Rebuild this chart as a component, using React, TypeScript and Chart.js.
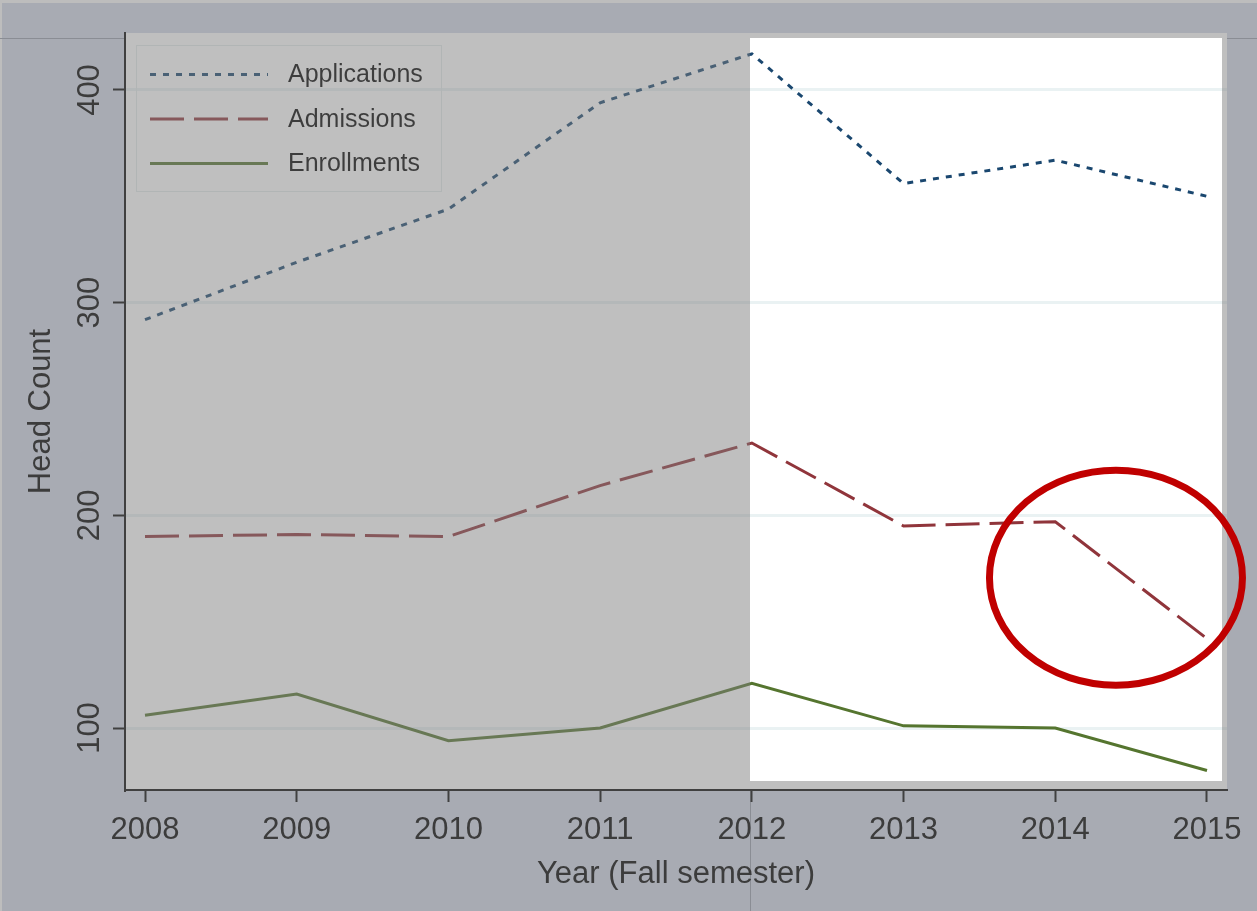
import React, { useEffect, useRef } from "react";
import { Chart, registerables } from "chart.js";

Chart.register(...registerables);

const years = [2008, 2009, 2010, 2011, 2012, 2013, 2014, 2015];
const applications = [292, 319, 344, 394, 417, 356, 367, 350];
const admissions = [190, 191, 190, 214, 234, 195, 197, 142];
const enrollments = [106, 116, 94, 100, 121, 101, 100, 80];
const yTicks = [100, 200, 300, 400];
const seriesNames = ["Applications", "Admissions", "Enrollments"];
const seriesColors = ["#1a476f", "#90353b", "#55752f"];
const seriesDashes = [[6, 7], [34, 10], []];

const W = 1257;
const H = 911;
const FONT = "'Liberation Sans', Arial, sans-serif";
const TEXT = "#3c3c3c";
const OUTER = "#a8abb3";

const decorPlugin = {
  id: "decor",
  beforeDraw(chart: any) {
    const ctx = chart.ctx;
    const a = chart.chartArea;
    ctx.save();
    ctx.fillStyle = OUTER;
    ctx.fillRect(0, 0, W, H);
    ctx.fillStyle = "#bdbdbd";
    ctx.fillRect(0, 0, W, 3);
    ctx.fillRect(0, 0, 2, H);
    // screenshot crop lines
    ctx.strokeStyle = "#8a8d94";
    ctx.lineWidth = 1;
    ctx.beginPath();
    ctx.moveTo(0, 38.5);
    ctx.lineTo(W, 38.5);
    const xs = chart.scales.x;
    const vx = Math.round(xs.getPixelForValue(2012)) - 1.5;
    ctx.moveTo(vx, a.bottom);
    ctx.lineTo(vx, H);
    ctx.stroke();
    // plot region
    ctx.fillStyle = "#ffffff";
    ctx.fillRect(a.left, a.top, a.right - a.left, a.bottom - a.top);
    ctx.restore();
  },
  afterDatasetsDraw(chart: any) {
    const ctx = chart.ctx;
    const a = chart.chartArea;
    const xs = chart.scales.x;
    ctx.save();
    // legend (drawn in true colours, muted by overlay)
    const lx = 136, ly = 45, lw = 305, lh = 146;
    ctx.strokeStyle = "#e4ecec";
    ctx.lineWidth = 1;
    ctx.strokeRect(lx + 0.5, ly + 0.5, lw, lh);
    const rows = [74.5, 119, 163.5];
    for (let i = 0; i < 3; i++) {
      ctx.strokeStyle = seriesColors[i];
      ctx.lineWidth = 3;
      ctx.setLineDash(seriesDashes[i]);
      ctx.beginPath();
      ctx.moveTo(150, rows[i]);
      ctx.lineTo(268, rows[i]);
      ctx.stroke();
      ctx.setLineDash([]);
      ctx.fillStyle = "#000000";
      ctx.font = `25px ${FONT}`;
      ctx.textBaseline = "middle";
      ctx.textAlign = "left";
      ctx.fillText(seriesNames[i], 288, rows[i] + 1);
    }
    // gray overlay except white window
    const wx = Math.round(xs.getPixelForValue(2012)) - 2;
    const wTop = a.top + 5, wRight = a.right - 5, wBottom = a.bottom - 9;
    ctx.fillStyle = "rgba(124,124,124,0.49)";
    ctx.beginPath();
    ctx.rect(a.left + 1, a.top, a.right - a.left - 1, a.bottom - a.top - 1);
    ctx.rect(wx, wTop, wRight - wx, wBottom - wTop);
    ctx.fill("evenodd");
    ctx.restore();
  },
  afterDraw(chart: any) {
    const ctx = chart.ctx;
    const a = chart.chartArea;
    const xs = chart.scales.x;
    const ys = chart.scales.y;
    ctx.save();
    ctx.fillStyle = TEXT;
    ctx.font = `31px ${FONT}`;
    ctx.textAlign = "center";
    ctx.textBaseline = "alphabetic";
    for (const yr of years) {
      ctx.fillText(String(yr), xs.getPixelForValue(yr), 839);
    }
    for (const t of yTicks) {
      ctx.save();
      ctx.translate(99, ys.getPixelForValue(t));
      ctx.rotate(-Math.PI / 2);
      ctx.fillText(String(t), 0, 0);
      ctx.restore();
    }
    ctx.fillText("Year (Fall semester)", (a.left + a.right) / 2, 883);
    ctx.save();
    ctx.translate(50, (a.top + a.bottom) / 2);
    ctx.rotate(-Math.PI / 2);
    ctx.fillText("Head Count", 0, 0);
    ctx.restore();
    // annotation ellipse
    ctx.strokeStyle = "#c00000";
    ctx.lineWidth = 7;
    ctx.beginPath();
    ctx.ellipse(xs.getPixelForValue(2014.4), ys.getPixelForValue(170.7), 126.5, 107.5, 0, 0, Math.PI * 2);
    ctx.stroke();
    ctx.restore();
  },
};

function mkData(vals: number[]) {
  return years.map((yr, i) => ({ x: yr, y: vals[i] }));
}

export default function App() {
  const ref = useRef<HTMLCanvasElement | null>(null);
  useEffect(() => {
    document.body.style.margin = "0";
    const canvas = ref.current!;
    const chart = new Chart(canvas, {
      type: "line",
      data: {
        datasets: [applications, admissions, enrollments].map((vals, i) => ({
          label: seriesNames[i],
          data: mkData(vals),
          borderColor: seriesColors[i],
          borderWidth: 3,
          borderDash: seriesDashes[i],
          pointRadius: 0,
          tension: 0,
          fill: false,
        })),
      },
      options: {
        responsive: false,
        animation: false,
        devicePixelRatio: 1,
        layout: { padding: { top: 33, right: 30, left: 0, bottom: 0 } },
        plugins: { legend: { display: false }, tooltip: { enabled: false } },
        scales: {
          x: {
            type: "linear",
            min: 2008 - 20 / 151.7,
            max: 2015 + 20 / 151.7,
            afterBuildTicks: (s: any) => {
              s.ticks = years.map((v) => ({ value: v }));
            },
            afterFit: (s: any) => {
              s.height = 121;
            },
            ticks: { display: false },
            grid: {
              drawOnChartArea: false,
              drawTicks: true,
              tickLength: 12,
              tickColor: "#404040",
              tickWidth: 2,
            },
            border: { color: "#404040", width: 2 },
          },
          y: {
            type: "linear",
            min: 100 - 62 / 2.1267,
            max: 400 + 57 / 2.1267,
            afterBuildTicks: (s: any) => {
              s.ticks = yTicks.map((v) => ({ value: v }));
            },
            afterFit: (s: any) => {
              s.width = 125;
            },
            ticks: { display: false },
            grid: {
              color: "#eaf2f3",
              lineWidth: 3,
              drawTicks: true,
              tickLength: 12,
              tickColor: "#404040",
              tickWidth: 2,
            },
            border: { color: "#404040", width: 2 },
          },
        },
      },
      plugins: [decorPlugin],
    });
    return () => chart.destroy();
  }, []);
  return (
    <div style={{ position: "absolute", left: 0, top: 0, width: W, height: H, background: OUTER }}>
      <canvas ref={ref} width={W} height={H} style={{ display: "block", width: W, height: H }} />
    </div>
  );
}
